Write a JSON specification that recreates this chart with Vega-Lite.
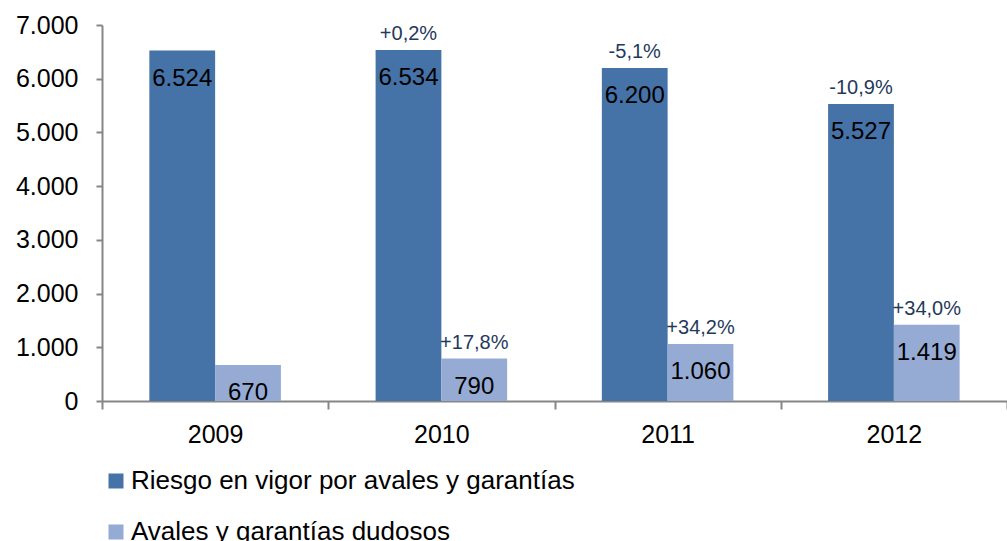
{
  "$schema": "https://vega.github.io/schema/vega-lite/v6.json",
  "width": 905,
  "height": 376,
  "autosize": {"type": "none"},
  "padding": {"left": 102, "top": 25, "right": 0, "bottom": 140},
  "config": {
    "font": "Liberation Sans",
    "view": {"stroke": null},
    "locale": {"number": {"decimal": ",", "thousands": ".", "grouping": [3], "currency": ["", " €"]}}
  },
  "data": {
    "values": [
      {"year": "2009", "serie": "Riesgo en vigor por avales y garantías", "valor": 6524, "var": ""},
      {"year": "2009", "serie": "Avales y garantías dudosos", "valor": 670, "var": ""},
      {"year": "2010", "serie": "Riesgo en vigor por avales y garantías", "valor": 6534, "var": "+0,2%"},
      {"year": "2010", "serie": "Avales y garantías dudosos", "valor": 790, "var": "+17,8%"},
      {"year": "2011", "serie": "Riesgo en vigor por avales y garantías", "valor": 6200, "var": "-5,1%"},
      {"year": "2011", "serie": "Avales y garantías dudosos", "valor": 1060, "var": "+34,2%"},
      {"year": "2012", "serie": "Riesgo en vigor por avales y garantías", "valor": 5527, "var": "-10,9%"},
      {"year": "2012", "serie": "Avales y garantías dudosos", "valor": 1419, "var": "+34,0%"}
    ]
  },
  "encoding": {
    "x": {
      "field": "year", "type": "nominal",
      "scale": {"paddingInner": 0, "paddingOuter": 0},
      "axis": {
        "title": null, "labelAngle": 0, "tickBand": "extent",
        "labelFontSize": 25, "labelColor": "#000000", "labelPadding": 13,
        "tickSize": 8, "tickColor": "#868686", "domainColor": "#868686", "domainWidth": 2, "tickWidth": 2
      }
    },
    "xOffset": {
      "field": "serie", "type": "nominal",
      "sort": ["Riesgo en vigor por avales y garantías", "Avales y garantías dudosos"],
      "scale": {"paddingInner": 0, "paddingOuter": 0.72}
    },
    "y": {
      "field": "valor", "type": "quantitative",
      "scale": {"domain": [0, 7000], "nice": false},
      "axis": {
        "title": null, "values": [0, 1000, 2000, 3000, 4000, 5000, 6000, 7000],
        "format": ",d", "grid": false,
        "labelFontSize": 25, "labelColor": "#000000", "labelPadding": 18,
        "tickSize": 6, "tickColor": "#868686", "domainColor": "#868686", "domainWidth": 2, "tickWidth": 2
      }
    }
  },
  "layer": [
    {
      "mark": {"type": "bar"},
      "encoding": {
        "color": {
          "field": "serie", "type": "nominal",
          "scale": {
            "domain": ["Riesgo en vigor por avales y garantías", "Avales y garantías dudosos"],
            "range": ["#4572A7", "#95ABD4"]
          },
          "legend": {
            "title": null, "orient": "none", "legendX": 1, "legendY": 443,
            "direction": "vertical", "symbolType": "square", "symbolSize": 225,
            "symbolStrokeWidth": 0, "labelFontSize": 26, "labelColor": "#000000",
            "labelOffset": 2, "rowPadding": 25, "labelLimit": 600
          }
        }
      }
    },
    {
      "mark": {"type": "text", "baseline": "middle", "align": "center", "dy": 28, "fontSize": 24, "color": "#000000"},
      "encoding": {"text": {"field": "valor", "type": "quantitative", "format": ",d"}}
    },
    {
      "mark": {"type": "text", "baseline": "alphabetic", "align": "center", "dy": -10, "fontSize": 20, "color": "#1F3A5C"},
      "encoding": {"text": {"field": "var", "type": "nominal"}}
    }
  ]
}
